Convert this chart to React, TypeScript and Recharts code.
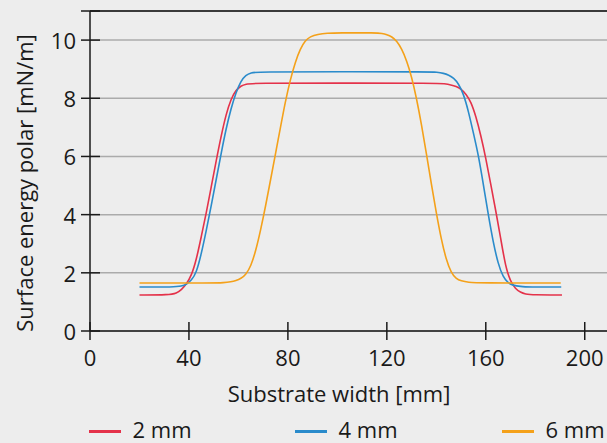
import React from 'react';
import { LineChart, Line, XAxis, YAxis, CartesianGrid, Legend, ReferenceLine, Label } from 'recharts';

// ---- data ----
const xTicks = [0, 40, 80, 120, 160, 200];
const yTicks = [0, 2, 4, 6, 8, 10];
const yFrameTop = 11;
const xMax = 209;

const seriesNames = ['2 mm', '4 mm', '6 mm'];
const seriesColors = ['#e4324a', '#2a8bcb', '#f4a11a'];

const x2mm = [20, 32, 35, 37, 39, 41, 43, 45, 47, 49, 51, 53, 55, 57, 59, 61, 63, 66, 100, 141, 143, 146, 148, 150, 152, 154, 156, 158, 160, 162, 164, 166, 168, 170, 172, 174, 176, 179, 190.8];
const y2mm = [1.24, 1.24, 1.3, 1.42, 1.62, 1.9, 2.45, 3.25, 4.05, 4.95, 5.85, 6.7, 7.45, 7.98, 8.28, 8.43, 8.49, 8.52, 8.52, 8.52, 8.5, 8.46, 8.41, 8.32, 8.15, 7.88, 7.38, 6.72, 5.95, 5.05, 4.15, 3.2, 2.2, 1.7, 1.45, 1.33, 1.27, 1.24, 1.24];

const x4mm = [20, 34, 37, 39, 41, 43, 45, 47, 49, 51, 53, 55, 57, 59, 61, 63, 65, 68, 100, 138, 140, 143, 145, 147, 149, 151, 153, 155, 157, 159, 161, 163, 165, 167, 169, 171, 174, 177, 190.5];
const y4mm = [1.51, 1.51, 1.54, 1.6, 1.74, 2.0, 2.65, 3.45, 4.3, 5.2, 6.1, 6.95, 7.65, 8.2, 8.6, 8.8, 8.88, 8.91, 8.91, 8.91, 8.9, 8.86, 8.8, 8.7, 8.5, 8.15, 7.55, 6.8, 6.05, 5.05, 4.0, 3.05, 2.3, 1.85, 1.65, 1.57, 1.53, 1.51, 1.51];

const x6mm = [20, 50, 54, 57, 59, 61, 63, 65, 67, 69, 71, 73, 75, 77, 79, 81, 83, 85, 87, 89, 92, 96, 100, 116, 118, 120, 122, 124, 126, 128, 130, 132, 134, 136, 138, 140, 142, 144, 146, 148, 150, 153, 157, 190.3];
const y6mm = [1.65, 1.65, 1.66, 1.69, 1.73, 1.8, 1.94, 2.22, 2.75, 3.48, 4.3, 5.2, 6.1, 7.0, 7.9, 8.65, 9.25, 9.7, 9.98, 10.12, 10.2, 10.24, 10.25, 10.25, 10.23, 10.19, 10.12, 9.97, 9.7, 9.3, 8.75, 8.0, 7.1, 6.1, 5.05, 4.05, 3.15, 2.45, 2.0, 1.8, 1.72, 1.67, 1.65, 1.65];

const zip = (xs: number[], ys: number[]) => xs.map((x, i) => ({ x, y: ys[i] }));
const seriesData = [zip(x2mm, y2mm), zip(x4mm, y4mm), zip(x6mm, y6mm)];

// ---- styles ----
const FONT = '"Open Sans", "Noto Sans", sans-serif';
const TEXT = '#1a1a1a';
const AXIS = '#1a1a1a';
const BG = '#ededed';
const legendLeft = [89, 295, 502];

const YTick = (props: any) => {
  const { x, y, payload } = props;
  const show = yTicks.includes(payload.value);
  return (
    <g>
      <line x1={x - 9} x2={x + 10} y1={y} y2={y} stroke={AXIS} strokeWidth={1.5} />
      {show && (
        <text x={x - 14} y={y} textAnchor="end" dominantBaseline="central" fontSize={22} fill={TEXT} fontFamily={FONT}>
          {payload.value}
        </text>
      )}
    </g>
  );
};

const XTick = (props: any) => {
  const { x, y, payload } = props;
  return (
    <g>
      <line x1={x} x2={x} y1={y - 9} y2={y + 9} stroke={AXIS} strokeWidth={1.5} />
      <text x={x} y={y + 26} textAnchor="middle" dominantBaseline="central" fontSize={22} fill={TEXT} fontFamily={FONT}>
        {payload.value}
      </text>
    </g>
  );
};

const XLabel = () => (
  <text x={339} y={402} textAnchor="middle" fontSize={22} fill={TEXT} fontFamily={FONT}>
    Substrate width [mm]
  </text>
);

const YLabel = () => (
  <text x={33} y={183} textAnchor="middle" fontSize={22} fill={TEXT} fontFamily={FONT} transform="rotate(-90, 33, 183)">
    Surface energy polar [mN/m]
  </text>
);

const LegendContent = () => (
  <div style={{ position: 'relative', width: 607, height: 28, fontFamily: FONT, fontSize: 22, color: TEXT }}>
    {seriesNames.map((n, i) => (
      <div key={n} style={{ position: 'absolute', left: legendLeft[i], top: 0, height: 28, width: 120 }}>
        <span style={{ position: 'absolute', left: 0, top: 15, width: 32, height: 3, background: seriesColors[i] }} />
        <span style={{ position: 'absolute', left: 43.5, top: 1, lineHeight: '26px', whiteSpace: 'nowrap' }}>{n}</span>
      </div>
    ))}
  </div>
);

export default function App() {
  return (
    <div style={{ position: 'absolute', left: 0, top: 0, width: 607, height: 443, background: BG }}>
      <LineChart width={607} height={443} margin={{ top: 11, right: 0, bottom: 0, left: 0 }}>
        <CartesianGrid vertical={false} stroke="#ababab" strokeWidth={1.5} />
        <XAxis
          dataKey="x"
          type="number"
          domain={[0, xMax]}
          ticks={xTicks}
          interval={0}
          height={84}
          tickSize={0}
          tickMargin={0}
          tickLine={false}
          tick={<XTick />}
          axisLine={{ stroke: AXIS, strokeWidth: 1.5 }}
          allowDataOverflow
          label={<Label content={<XLabel />} />}
        />
        <YAxis
          type="number"
          domain={[0, yFrameTop]}
          ticks={[...yTicks, yFrameTop]}
          interval={0}
          width={90}
          tickSize={0}
          tickMargin={0}
          tickLine={false}
          tick={<YTick />}
          axisLine={{ stroke: AXIS, strokeWidth: 1.5 }}
          allowDataOverflow
          label={<Label content={<YLabel />} />}
        />
        <ReferenceLine y={yFrameTop} stroke="#3a3a3a" strokeWidth={2} />
        {seriesData.map((d, i) => (
          <Line
            key={seriesNames[i]}
            data={d}
            dataKey="y"
            name={seriesNames[i]}
            type="basis"
            stroke={seriesColors[i]}
            strokeWidth={1.6}
            dot={false}
            activeDot={false}
            isAnimationActive={false}
          />
        ))}
        <Legend
          verticalAlign="bottom"
          content={<LegendContent />}
          wrapperStyle={{ left: 0, bottom: 0, width: 607, height: 28, margin: 0 }}
        />
      </LineChart>
    </div>
  );
}
